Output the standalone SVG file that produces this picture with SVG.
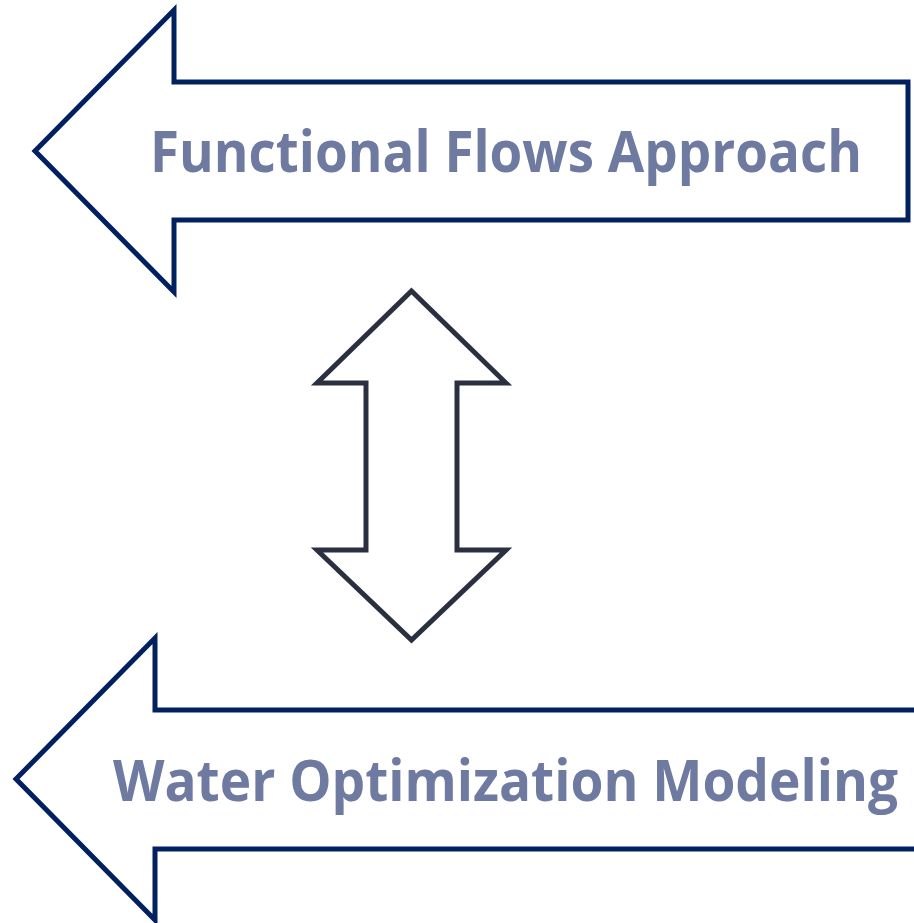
<svg xmlns="http://www.w3.org/2000/svg" width="914" height="923" viewBox="0 0 914 923">
<style>
.big{fill:#ffffff;stroke:#002060;stroke-width:5;stroke-linejoin:miter}
.dbl{fill:#ffffff;stroke:#2b3040;stroke-width:5;stroke-linejoin:miter}
.lbl{font-family:"Open Sans","Liberation Sans",sans-serif;font-weight:bold;font-size:58px;fill:#6f7aa1}
</style>
<rect width="914" height="923" fill="#ffffff"/>
<g id="functional-flows">
<polygon class="big" points="35,151 174,10 174,82 908,82 908,220 174,220 174,292"/>
<text class="lbl" x="150" y="172" textLength="712" lengthAdjust="spacingAndGlyphs">Functional Flows Approach</text>
</g>
<g id="water-optimization">
<polygon class="big" points="16,779 155,638 155,710 920,710 920,849 155,849 155,920"/>
<text class="lbl" x="113" y="801" textLength="785" lengthAdjust="spacingAndGlyphs">Water Optimization Modeling</text>
</g>
<g id="connectors">
<polygon class="dbl" points="411.5,291 506,383 457,383 457,550 506,550 411.5,640 317,550 366,550 366,383 317,383"/>
</g>
</svg>
